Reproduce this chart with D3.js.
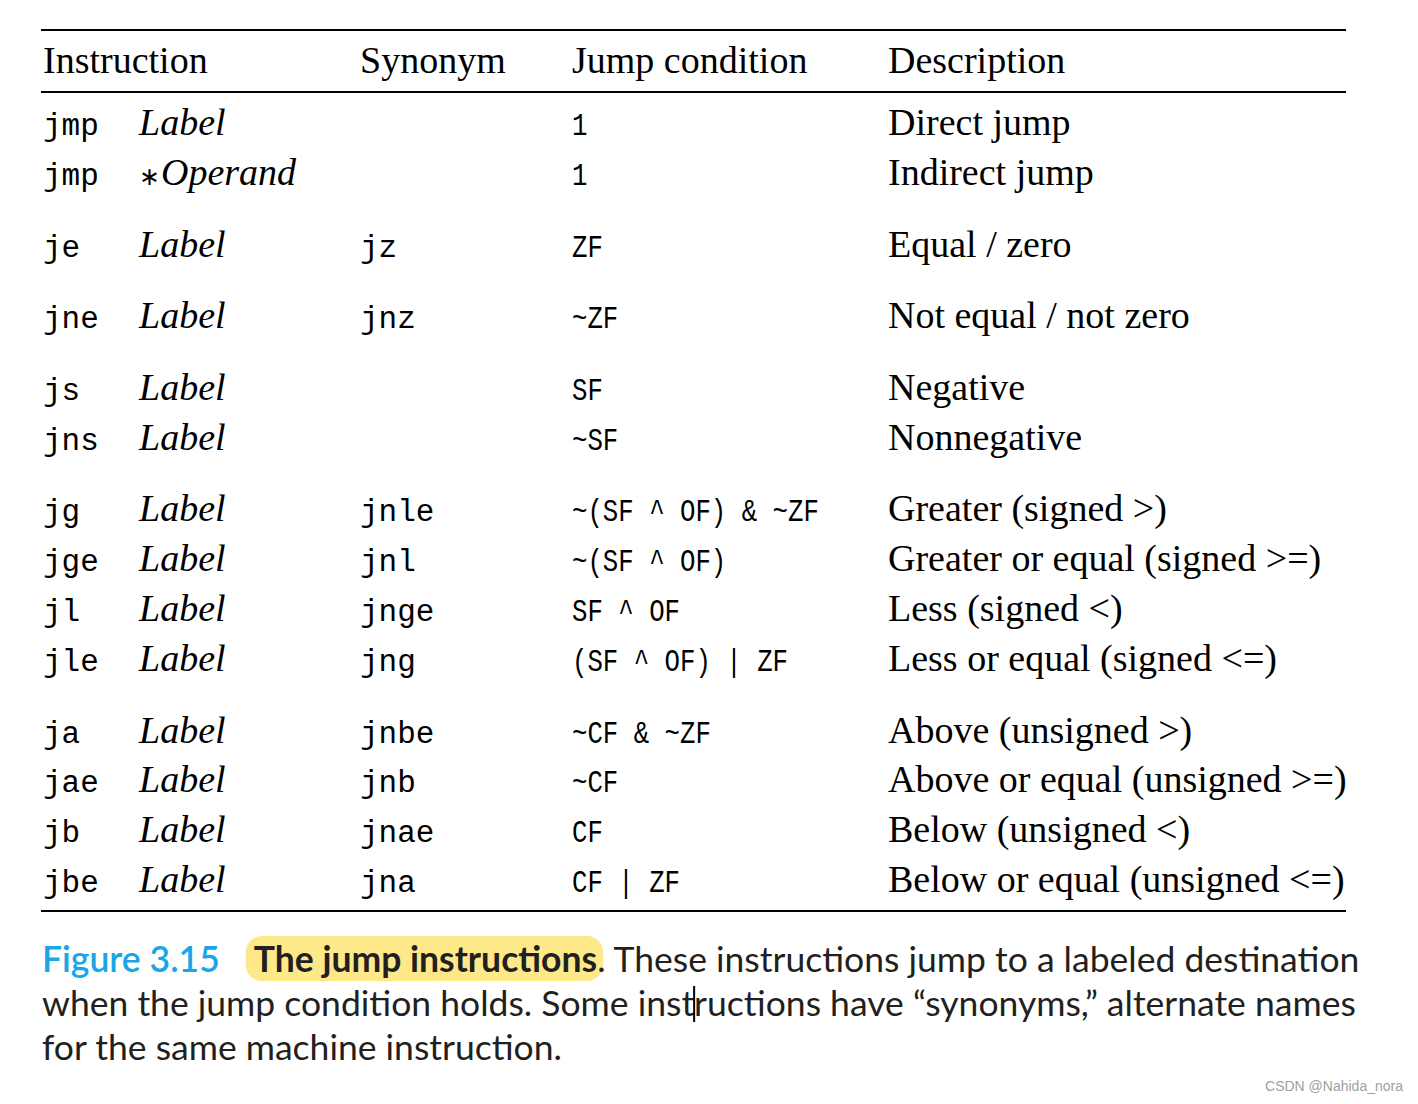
<!DOCTYPE html>
<html>
<head>
<meta charset="utf-8">
<script src="https://cdn.jsdelivr.net/npm/d3@7"></script>
<style>
  html, body { margin: 0; padding: 0; background: #fff; }
  svg { display: block; }
</style>
</head>
<body>
<script>
// table content, one entry per row
const instructions = ["jmp", "jmp", "je", "jne", "js", "jns", "jg", "jge", "jl", "jle", "ja", "jae", "jb", "jbe"];
const operands = ["Label", "*Operand", "Label", "Label", "Label", "Label", "Label", "Label", "Label", "Label", "Label", "Label", "Label", "Label"];
const synonyms = ["", "", "jz", "jnz", "", "", "jnle", "jnl", "jnge", "jng", "jnbe", "jnb", "jnae", "jna"];
const conditions = ["1", "1", "ZF", "~ZF", "SF", "~SF", "~(SF ^ OF) & ~ZF", "~(SF ^ OF)", "SF ^ OF", "(SF ^ OF) | ZF",
                    "~CF & ~ZF", "~CF", "CF", "CF | ZF"];
const descriptions = ["Direct jump", "Indirect jump", "Equal / zero", "Not equal / not zero", "Negative", "Nonnegative",
                      "Greater (signed >)", "Greater or equal (signed >=)", "Less (signed <)", "Less or equal (signed <=)",
                      "Above (unsigned >)", "Above or equal (unsigned >=)", "Below (unsigned <)", "Below or equal (unsigned <=)"];
const groups = [0, 0, 1, 2, 3, 3, 4, 4, 4, 4, 5, 5, 5, 5];
const headers = ["Instruction", "Synonym", "Jump condition", "Description"];

const caption = {
    label: "Figure 3.15",
    title: "The jump instructions",
    lines: [". These instructions jump to a labeled destination",
            "when the jump condition holds. Some instructions have \u201csynonyms,\u201d alternate names",
            "for the same machine instruction."]
};

const width = 1418, height = 1104;
const serif = "'Liberation Serif', 'Times New Roman', serif";
const mono = "'Liberation Mono', 'DejaVu Sans Mono', monospace";
const sans = "Lato, 'Open Sans', sans-serif";

const svg = d3.select("body").append("svg")
    .attr("width", width)
    .attr("height", height);

// columns
const x = d3.scaleOrdinal()
    .domain(["instr", "synonym", "condition", "description"])
    .range([43, 360, 572, 888]);
const operandX = 139;
const left = 41, right = 1346;

// rows: row index plus an extra gap between groups
const y = d3.scaleLinear()
    .domain([0, 1])
    .range([135, 184.8]);
const rowPos = (i) => i + groups[i] * 0.44;

// rules
const rules = [30, 92, 911];
svg.selectAll(".rule")
    .data(rules)
    .enter().append("line")
    .attr("x1", left).attr("x2", right)
    .attr("y1", d => d).attr("y2", d => d)
    .attr("stroke", "#000")
    .attr("stroke-width", 2);

// header
svg.selectAll(".head")
    .data(headers)
    .enter().append("text")
    .attr("x", (d, i) => x.range()[i])
    .attr("y", 73)
    .style("font-family", serif)
    .style("font-size", "38px")
    .text(d => d);

const rows = svg.selectAll(".row")
    .data(instructions)
    .enter().append("g")
    .attr("transform", (d, i) => `translate(0,${y(rowPos(i))})`);

rows.append("text")
    .attr("x", x("instr"))
    .style("font-family", mono)
    .style("font-size", "31px")
    .text(d => d);

rows.append("text")
    .attr("x", operandX)
    .style("font-family", serif)
    .style("font-size", "38px")
    .each(function (d, i) {
        const op = operands[i];
        const t = d3.select(this);
        if (op.startsWith("*")) {
            t.append("tspan").style("font-style", "normal").style("font-size", "25px").text("\u2217");
            t.append("tspan").attr("x", operandX + 22).style("font-style", "italic").text(op.slice(1));
        } else {
            t.append("tspan").style("font-style", "italic").text(op);
        }
    });

rows.append("text")
    .attr("x", x("synonym"))
    .style("font-family", mono)
    .style("font-size", "31px")
    .text((d, i) => synonyms[i]);

rows.append("text")
    .attr("transform", `translate(${x("condition")},0) scale(0.83,1)`)
    .style("font-family", mono)
    .style("font-size", "31px")
    .text((d, i) => conditions[i]);

rows.append("text")
    .attr("x", x("description"))
    .style("font-family", serif)
    .style("font-size", "38px")
    .text((d, i) => descriptions[i]);

// caption
const capLead = 44, capTop = 972, capLeft = 42, capWidth = 1314;
const cap = svg.append("g");
const hl = cap.append("rect")
    .attr("fill", "#fde98a");

const capLines = [];
const line1 = cap.append("text")
    .attr("x", capLeft).attr("y", capTop);
line1.append("tspan")
    .attr("fill", "#1aa6e6")
    .style("font-weight", 600)
    .text(caption.label);
const title = line1.append("tspan")
    .attr("dx", 34)
    .style("font-weight", 700)
    .text(caption.title);
line1.append("tspan").text(caption.lines[0]);
capLines.push(line1);

caption.lines.slice(1).forEach((l, i) => {
    capLines.push(cap.append("text")
        .attr("x", capLeft).attr("y", capTop + capLead * (i + 1))
        .text(l));
});
capLines.forEach(t => t
    .style("font-family", sans)
    .style("font-size", "33px")
    .attr("fill", "#231f20"));

// size the caption so the second line fills the table width
const w2 = capLines[1].node().getComputedTextLength();
const capSize = 33 * capWidth / w2;
capLines.forEach(t => t.style("font-size", capSize + "px"));

const tb = title.node().getBBox();
hl.attr("x", tb.x - 8).attr("y", tb.y - 1)
    .attr("width", tb.width + 14).attr("height", tb.height + 2)
    .attr("rx", 16);

// text cursor left in the scan
const cursorAt = capLines[1].text().indexOf("Some inst") + "Some inst".length;
const cx = capLeft + capLines[1].node().getSubStringLength(0, cursorAt);
cap.append("line")
    .attr("x1", cx).attr("x2", cx)
    .attr("y1", capTop + capLead - 30).attr("y2", capTop + capLead + 6)
    .attr("stroke", "#000")
    .attr("stroke-width", 2);

// watermark
svg.append("text")
    .attr("x", 1403).attr("y", 1091)
    .attr("text-anchor", "end")
    .style("font-family", "'Liberation Sans', Arial, sans-serif")
    .style("font-size", "14px")
    .attr("fill", "#a0a0a0")
    .text("CSDN @Nahida_nora");
</script>
</body>
</html>
